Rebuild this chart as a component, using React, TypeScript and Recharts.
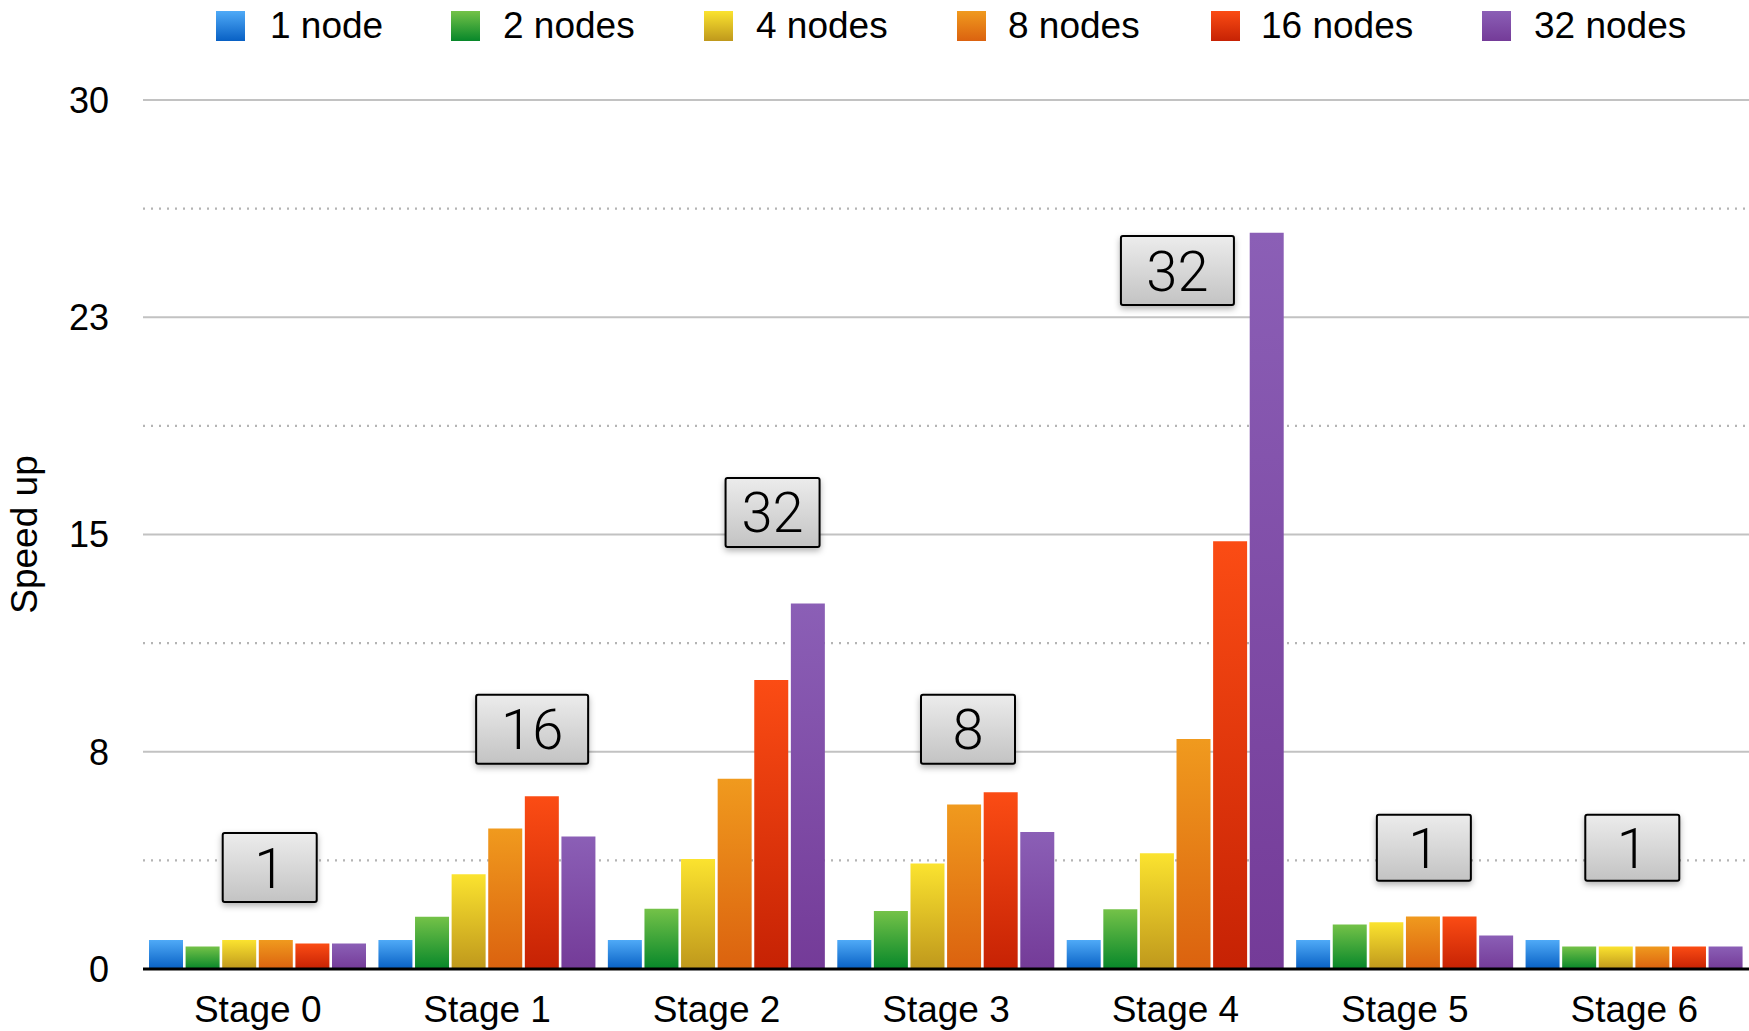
import React from 'react';
import {
  BarChart, Bar, XAxis, YAxis, CartesianGrid, Legend, ReferenceDot, Label,
} from 'recharts';

// ---------- data ----------
const stages = ['Stage 0', 'Stage 1', 'Stage 2', 'Stage 3', 'Stage 4', 'Stage 5', 'Stage 6'];
const seriesNames = ['1 node', '2 nodes', '4 nodes', '8 nodes', '16 nodes', '32 nodes'];
const node1 = [1, 1, 1, 1, 1, 1, 1];
const node2 = [0.78, 1.8, 2.08, 2.0, 2.06, 1.54, 0.78];
const node4 = [1.0, 3.27, 3.8, 3.64, 4.0, 1.61, 0.78];
const node8 = [1.0, 4.85, 6.57, 5.68, 7.94, 1.81, 0.78];
const node16 = [0.88, 5.96, 9.98, 6.1, 14.77, 1.81, 0.78];
const node32 = [0.88, 4.57, 12.62, 4.73, 25.42, 1.16, 0.78];
const bestLabels = ['1', '16', '32', '8', '32', '1', '1'];
const bestLabelY = [3.5, 8.28, 15.76, 8.28, 24.11, 4.19, 4.19];
const yTicks = [0, 7.5, 15, 22.5, 30];
const majorGrid = [7.5, 15, 22.5, 30];
const minorTicks = [3.75, 11.25, 18.75, 26.25];

// ---------- layout / style ----------
const W = 1749;
const H = 1031;
const FONT = '"Liberation Sans", Arial, Helvetica, sans-serif';
const FS = 37;
const gradients = [
  ['#4faaf7', '#0860c4'],
  ['#74c248', '#07872a'],
  ['#fbe32f', '#bf981c'],
  ['#f09a1e', '#db620f'],
  ['#fb4c14', '#c62204'],
  ['#8b5fb6', '#743b98'],
];
const legendSwatchX = [216, 451, 704, 957, 1211, 1482];
const legendTextX = [270, 503, 756, 1008, 1261, 1534];
const boxDx = [12, 45, 56, 22, 2, 19, -2];
const boxW = [94, 112, 94, 94, 113, 94, 94];
const boxH = [69, 69, 69, 69, 69, 66, 66];

const seriesValues = [node1, node2, node4, node8, node16, node32];
const keys = ['s1', 's2', 's4', 's8', 's16', 's32'];
const data = stages.map((s, i) => {
  const row: Record<string, any> = { stage: s };
  keys.forEach((k, j) => { row[k] = seriesValues[j][i]; });
  return row;
});

const LegendContent = () => (
  <div style={{ height: 100, width: W, position: 'relative', fontFamily: FONT }}>
    {seriesNames.map((n, i) => (
      <React.Fragment key={n}>
        <div style={{
          position: 'absolute', left: legendSwatchX[i], top: 11, width: 29, height: 30,
          background: `linear-gradient(to bottom, ${gradients[i][0]}, ${gradients[i][1]})`,
        }} />
        <div style={{
          position: 'absolute', left: legendTextX[i], top: 6, fontSize: FS, lineHeight: '40px',
          color: '#000', whiteSpace: 'nowrap',
        }}>{n}</div>
      </React.Fragment>
    ))}
  </div>
);

const makeBox = (i: number) => (props: any) => {
  const { cx, cy } = props;
  if (cx == null || cy == null) return <g />;
  const w = boxW[i];
  const h = boxH[i];
  const x = cx + boxDx[i] - w / 2;
  const y = cy - h / 2;
  return (
    <g>
      <rect x={x} y={y} width={w} height={h} rx={2} ry={2}
        fill="url(#boxGrad)" stroke="#000" strokeWidth={2} filter="url(#boxShadow)" />
      <text x={cx + boxDx[i]} y={cy + 20} textAnchor="middle"
        style={{ fontFamily: 'Roboto, "Liberation Sans", sans-serif', fontWeight: 300, fontSize: 56, fill: '#000' }}>
        {bestLabels[i]}
      </text>
    </g>
  );
};

export default function App() {
  return (
    <div style={{ position: 'absolute', left: 0, top: 0, width: W, height: H, background: '#fff', fontFamily: FONT }}>
      <BarChart width={W} height={H} data={data}
        margin={{ top: 0, right: 0, bottom: 0, left: 0 }}
        barSize={34} barGap={2.6}>
        <defs>
          {gradients.map((g, i) => (
            <linearGradient key={i} id={`grad${i}`} x1="0" y1="0" x2="0" y2="1">
              <stop offset="0%" stopColor={g[0]} />
              <stop offset="100%" stopColor={g[1]} />
            </linearGradient>
          ))}
          <linearGradient id="boxGrad" x1="0" y1="0" x2="0" y2="1">
            <stop offset="0%" stopColor="#ececec" />
            <stop offset="100%" stopColor="#c3c3c3" />
          </linearGradient>
          <filter id="boxShadow" x="-20%" y="-20%" width="140%" height="150%">
            <feDropShadow dx="0" dy="3" stdDeviation="3" floodColor="#000" floodOpacity="0.3" />
          </filter>
        </defs>
        <Legend verticalAlign="top" height={100} content={<LegendContent />}
          wrapperStyle={{ left: 0, top: 0, width: W, height: 100 }} />
        <CartesianGrid vertical={false} horizontalValues={minorTicks}
          stroke="#b4b4b4" strokeWidth={2.2} strokeDasharray="2 6" />
        <CartesianGrid vertical={false} horizontalValues={majorGrid}
          stroke="#c2c2c2" strokeWidth={2} />
        <XAxis dataKey="stage" tickLine={false} tickSize={0} tickMargin={27} height={62}
          axisLine={{ stroke: '#000', strokeWidth: 3 }}
          tick={{ fontSize: FS, fill: '#000', fontFamily: FONT }} interval={0} />
        <YAxis domain={[0, 30]} ticks={yTicks} width={143} tickLine={false} axisLine={false}
          tickSize={0} tickMargin={34} interval={0}
          tickFormatter={(v: number) => String(Math.round(v))}
          tick={{ fontSize: 36, fill: '#000', fontFamily: FONT }}>
          <Label content={(p: any) => {
            const vb = p.viewBox || {};
            const cx = 24;
            const cy = (vb.y ?? 100) + (vb.height ?? 869) / 2;
            return (
              <text x={cx} y={cy} textAnchor="middle" dominantBaseline="central"
                transform={`rotate(-90, ${cx}, ${cy})`}
                style={{ fontSize: FS, fill: '#000', fontFamily: FONT }}>Speed up</text>
            );
          }} />
        </YAxis>
        {keys.map((k, i) => (
          <Bar key={k} dataKey={k} name={seriesNames[i]} fill={`url(#grad${i})`} isAnimationActive={false} />
        ))}
        {stages.map((s, i) => (
          <ReferenceDot key={s} x={s} y={bestLabelY[i]} r={10} ifOverflow="visible" shape={makeBox(i)} />
        ))}
      </BarChart>
    </div>
  );
}
